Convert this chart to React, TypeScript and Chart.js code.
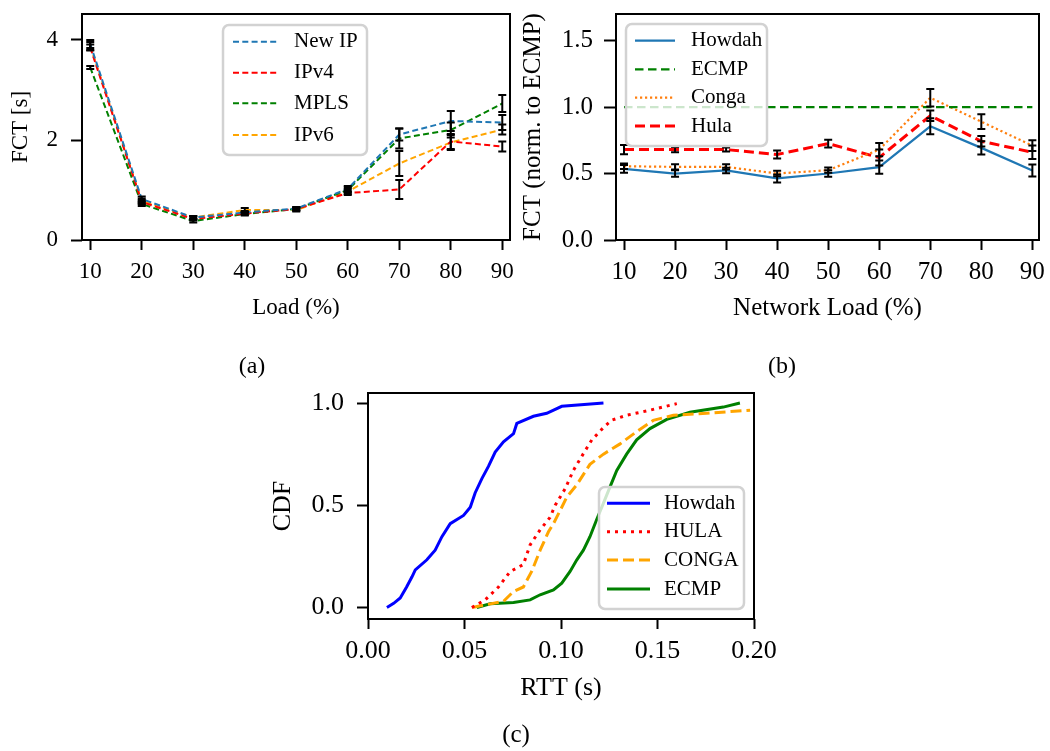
import React, { useEffect, useRef } from "react";
import { Chart, registerables } from "chart.js";

Chart.register(...registerables);

const SERIF = "'Liberation Serif', 'Times New Roman', Times, serif";

// ---------------- Panel (a): FCT vs load ----------------
const loadA = [10, 20, 30, 40, 50, 60, 70, 80, 90];
const newIpFct = [3.92, 0.82, 0.45, 0.55, 0.63, 1.02, 2.11, 2.38, 2.35];
const newIpErr = [0.08, 0.05, 0.03, 0.03, 0.03, 0.06, 0.12, 0.2, 0.15];
const ipv4Fct = [3.85, 0.76, 0.42, 0.53, 0.62, 0.94, 1.01, 1.97, 1.87];
const ipv4Err = [0.06, 0.04, 0.03, 0.03, 0.03, 0.04, 0.19, 0.15, 0.1];
const mplsFct = [3.45, 0.72, 0.38, 0.52, 0.62, 1.0, 2.03, 2.2, 2.73];
const mplsErr = [0.03, 0.04, 0.03, 0.03, 0.03, 0.05, 0.2, 0.15, 0.17];
const ipv6Fct = [3.88, 0.78, 0.45, 0.6, 0.6, 0.97, 1.53, 1.95, 2.21];
const ipv6Err = [0.08, 0.05, 0.03, 0.04, 0.03, 0.05, 0.25, 0.15, 0.1];
const ticksAX = [10, 20, 30, 40, 50, 60, 70, 80, 90];
const ticksAY = [0, 2, 4];

// ---------------- Panel (b): normalized FCT ----------------
const loadB = [10, 20, 30, 40, 50, 60, 70, 80, 90];
const howdahNorm = [0.535, 0.5, 0.523, 0.463, 0.5, 0.548, 0.855, 0.693, 0.523];
const howdahNormErr = [0.03, 0.025, 0.02, 0.03, 0.025, 0.05, 0.06, 0.05, 0.045];
const ecmpNorm = [1, 1, 1, 1, 1, 1, 1, 1, 1];
const congaNorm = [0.555, 0.55, 0.55, 0.5, 0.525, 0.68, 1.07, 0.89, 0.71];
const congaNormErr = [0.02, 0.02, 0.02, 0.02, 0.02, 0.05, 0.065, 0.055, 0.04];
const hulaNorm = [0.68, 0.68, 0.68, 0.643, 0.725, 0.62, 0.935, 0.743, 0.66];
const hulaNormErr = [0.035, 0.02, 0.015, 0.03, 0.03, 0.06, 0.04, 0.04, 0.05];
const ticksBX = [10, 20, 30, 40, 50, 60, 70, 80, 90];
const ticksBY = [0, 0.5, 1.0, 1.5];

// ---------------- Panel (c): RTT CDF ----------------
const howdahRtt = [0.0098, 0.0133, 0.0167, 0.02, 0.0228, 0.0245, 0.0305, 0.0348, 0.0383, 0.0426, 0.0495, 0.053, 0.0555, 0.059, 0.0624, 0.0659, 0.0702, 0.0754, 0.0771, 0.0857, 0.0926, 0.1004, 0.122];
const howdahCdf = [0, 0.02, 0.046, 0.1, 0.15, 0.184, 0.233, 0.28, 0.346, 0.41, 0.45, 0.49, 0.56, 0.63, 0.69, 0.76, 0.81, 0.85, 0.9, 0.935, 0.95, 0.984, 1.0];
const hulaRtt = [0.0538, 0.0607, 0.0676, 0.0737, 0.0805, 0.084, 0.0892, 0.0943, 0.097, 0.1021, 0.1064, 0.1108, 0.116, 0.122, 0.1263, 0.134, 0.1461, 0.16];
const hulaCdf = [0, 0.037, 0.1, 0.176, 0.21, 0.306, 0.38, 0.44, 0.5, 0.58, 0.67, 0.74, 0.82, 0.88, 0.916, 0.94, 0.965, 0.997];
const congaRtt = [0.054, 0.0702, 0.0754, 0.0805, 0.0848, 0.0892, 0.0935, 0.0961, 0.1004, 0.103, 0.1082, 0.115, 0.122, 0.1306, 0.1392, 0.1478, 0.1582, 0.1755, 0.198];
const congaCdf = [0, 0.03, 0.078, 0.1, 0.176, 0.28, 0.37, 0.41, 0.49, 0.54, 0.6, 0.7, 0.75, 0.8, 0.86, 0.915, 0.94, 0.95, 0.965];
const ecmpRtt = [0.0564, 0.0633, 0.0754, 0.084, 0.0892, 0.0961, 0.1004, 0.1047, 0.1082, 0.1116, 0.115, 0.1185, 0.122, 0.1254, 0.1289, 0.134, 0.1392, 0.1461, 0.1548, 0.1668, 0.1841, 0.1927];
const ecmpCdf = [0, 0.018, 0.024, 0.037, 0.062, 0.086, 0.119, 0.176, 0.233, 0.28, 0.346, 0.43, 0.51, 0.59, 0.67, 0.75, 0.82, 0.875, 0.92, 0.955, 0.98, 1.0];
const ticksCX = [0, 0.05, 0.1, 0.15, 0.2];
const ticksCY = [0, 0.5, 1.0];

// ---------------- types ----------------
interface LineSpec {
  label: string;
  xs: number[];
  ys: number[];
  err?: number[];
  color: string;
  dash: number[];
  width: number;
  cap?: CanvasLineCap;
}

interface PanelSpec {
  area: { left: number; top: number; right: number; bottom: number };
  layoutLeft: number;
  xRange: [number, number];
  yRange: [number, number];
  xTicks: number[];
  yTicks: number[];
  xFmt: (v: number) => string;
  yFmt: (v: number) => string;
  xTitle: string;
  yTitle: string;
  tickSize: number;
  titleSize: number;
  xTickLen: number;
  yTickLen: number;
  xTickPad: number;
  yTickPad: number;
  xTitleCenter: number;
  yTitleCenter: number;
  series: LineSpec[];
  capHalf: number;
  legend: {
    box: { x: number; y: number; w: number; h: number };
    rows: number[];
    sampleX: [number, number];
    textX: number;
    size: number;
  };
  caption: { text: string; x: number; y: number; size: number };
}

const W = 1050;
const H = 751;

function buildChart(canvas: HTMLCanvasElement, p: PanelSpec) {
  const lh = 1.2;
  const xAxisH = p.xTitleCenter - p.area.bottom + (p.titleSize * lh) / 2;
  const yAxisW = p.area.left - p.layoutLeft;
  const yTitlePad = p.yTitleCenter - p.layoutLeft - (p.titleSize * lh) / 2;

  const datasets = p.series.map((s) => ({
    label: s.label,
    data: s.xs.map((x, i) => ({ x, y: s.ys[i] })),
    borderColor: s.color,
    backgroundColor: s.color,
    borderWidth: s.width,
    borderDash: s.dash,
    borderCapStyle: s.cap || "butt",
    pointRadius: 0,
    pointHoverRadius: 0,
    tension: 0,
    fill: false,
  }));

  const overlay = {
    id: "overlay",
    afterDatasetsDraw(chart: any) {
      const ctx: CanvasRenderingContext2D = chart.ctx;
      const xs = chart.scales.x;
      const ys = chart.scales.y;
      const a = chart.chartArea;
      ctx.save();
      // error bars
      ctx.strokeStyle = "#000";
      ctx.lineWidth = 2;
      ctx.setLineDash([]);
      p.series.forEach((s) => {
        if (!s.err) return;
        s.xs.forEach((xv, i) => {
          const px = xs.getPixelForValue(xv);
          const y1 = ys.getPixelForValue(s.ys[i] - s.err![i]);
          const y2 = ys.getPixelForValue(s.ys[i] + s.err![i]);
          ctx.beginPath();
          ctx.moveTo(px, y1);
          ctx.lineTo(px, y2);
          ctx.moveTo(px - p.capHalf, y1);
          ctx.lineTo(px + p.capHalf, y1);
          ctx.moveTo(px - p.capHalf, y2);
          ctx.lineTo(px + p.capHalf, y2);
          ctx.stroke();
        });
      });
      // spines
      ctx.lineWidth = 2;
      ctx.strokeStyle = "#000";
      ctx.strokeRect(a.left, a.top, a.right - a.left, a.bottom - a.top);
      // legend
      const L = p.legend;
      ctx.beginPath();
      const r = 6;
      const { x, y, w, h } = L.box;
      ctx.moveTo(x + r, y);
      ctx.arcTo(x + w, y, x + w, y + h, r);
      ctx.arcTo(x + w, y + h, x, y + h, r);
      ctx.arcTo(x, y + h, x, y, r);
      ctx.arcTo(x, y, x + w, y, r);
      ctx.closePath();
      ctx.fillStyle = "rgba(255,255,255,0.8)";
      ctx.fill();
      ctx.strokeStyle = "#d2d2d2";
      ctx.lineWidth = 2.5;
      ctx.stroke();
      p.series.forEach((s, i) => {
        const ry = L.rows[i];
        ctx.beginPath();
        ctx.setLineDash(s.dash);
        ctx.lineCap = s.cap || "butt";
        ctx.strokeStyle = s.color;
        ctx.lineWidth = s.width;
        ctx.moveTo(L.sampleX[0], ry);
        ctx.lineTo(L.sampleX[1], ry);
        ctx.stroke();
        ctx.setLineDash([]);
        ctx.fillStyle = "#000";
        ctx.font = `${L.size}px ${SERIF}`;
        ctx.textAlign = "left";
        ctx.textBaseline = "middle";
        ctx.fillText(s.label, L.textX, ry);
      });
      // caption
      ctx.fillStyle = "#000";
      ctx.font = `${p.caption.size}px ${SERIF}`;
      ctx.textAlign = "center";
      ctx.textBaseline = "middle";
      ctx.fillText(p.caption.text, p.caption.x, p.caption.y);
      ctx.restore();
    },
  };

  const zeroPad = (s: any) => {
    s.paddingLeft = 0;
    s.paddingRight = 0;
    s.paddingTop = 0;
    s.paddingBottom = 0;
  };

  return new Chart(canvas, {
    type: "line",
    data: { datasets: datasets as any },
    options: {
      responsive: false,
      animation: false,
      events: [],
      layout: {
        padding: {
          left: p.layoutLeft,
          top: p.area.top,
          right: W - p.area.right,
          bottom: H - p.area.bottom - xAxisH,
        },
      },
      plugins: {
        legend: { display: false },
        tooltip: { enabled: false },
        title: { display: false },
      },
      scales: {
        x: {
          type: "linear",
          position: "bottom",
          min: p.xRange[0],
          max: p.xRange[1],
          afterBuildTicks: (s: any) => {
            s.ticks = p.xTicks.map((v) => ({ value: v }));
          },
          afterFit: (s: any) => {
            s.height = xAxisH;
            zeroPad(s);
          },
          ticks: {
            font: { family: SERIF, size: p.tickSize },
            color: "#000",
            padding: p.xTickPad,
            maxRotation: 0,
            minRotation: 0,
            autoSkip: false,
            callback: (v: any) => p.xFmt(Number(v)),
          },
          grid: {
            drawOnChartArea: false,
            drawTicks: true,
            tickLength: p.xTickLen,
            tickColor: "#000",
            tickWidth: 2,
            color: "#000",
          },
          border: { display: false },
          title: {
            display: true,
            text: p.xTitle,
            color: "#000",
            font: { family: SERIF, size: p.titleSize, lineHeight: lh },
            padding: { top: 0, bottom: 0 },
          },
        },
        y: {
          type: "linear",
          position: "left",
          min: p.yRange[0],
          max: p.yRange[1],
          afterBuildTicks: (s: any) => {
            s.ticks = p.yTicks.map((v) => ({ value: v }));
          },
          afterFit: (s: any) => {
            s.width = yAxisW;
            zeroPad(s);
          },
          ticks: {
            font: { family: SERIF, size: p.tickSize },
            color: "#000",
            padding: p.yTickPad,
            autoSkip: false,
            callback: (v: any) => p.yFmt(Number(v)),
          },
          grid: {
            drawOnChartArea: false,
            drawTicks: true,
            tickLength: p.yTickLen,
            tickColor: "#000",
            tickWidth: 2,
            color: "#000",
          },
          border: { display: false },
          title: {
            display: true,
            text: p.yTitle,
            color: "#000",
            font: { family: SERIF, size: p.titleSize, lineHeight: lh },
            padding: { top: yTitlePad, bottom: 0 },
          },
        },
      },
    },
    plugins: [overlay as any],
  });
}

const panelA: PanelSpec = {
  area: { left: 82, top: 14, right: 510, bottom: 240 },
  layoutLeft: 0,
  xRange: [8.4, 91.5],
  yRange: [0, 4.52],
  xTicks: ticksAX,
  yTicks: ticksAY,
  xFmt: (v) => String(Math.round(v)),
  yFmt: (v) => String(Math.round(v)),
  xTitle: "Load (%)",
  yTitle: "FCT [s]",
  tickSize: 23,
  titleSize: 23,
  xTickLen: 10,
  yTickLen: 11,
  xTickPad: 8.5,
  yTickPad: 13,
  xTitleCenter: 308,
  yTitleCenter: 21,
  capHalf: 4,
  series: [
    { label: "New IP", xs: loadA, ys: newIpFct, err: newIpErr, color: "#1f77b4", dash: [6, 3.3], width: 2 },
    { label: "IPv4", xs: loadA, ys: ipv4Fct, err: ipv4Err, color: "#ff0000", dash: [6, 3.3], width: 2 },
    { label: "MPLS", xs: loadA, ys: mplsFct, err: mplsErr, color: "#008000", dash: [6, 3.3], width: 2 },
    { label: "IPv6", xs: loadA, ys: ipv6Fct, err: ipv6Err, color: "#ffa500", dash: [6, 3.3], width: 2 },
  ],
  legend: {
    box: { x: 223, y: 25, w: 144, h: 130 },
    rows: [41.7, 72.7, 103.3, 135],
    sampleX: [233, 277],
    textX: 294,
    size: 21,
  },
  caption: { text: "(a)", x: 252, y: 367, size: 24 },
};

const panelB: PanelSpec = {
  area: { left: 616, top: 14, right: 1039, bottom: 240 },
  layoutLeft: 500,
  xRange: [8.43, 91.3],
  yRange: [0, 1.7],
  xTicks: ticksBX,
  yTicks: ticksBY,
  xFmt: (v) => String(Math.round(v)),
  yFmt: (v) => v.toFixed(1),
  xTitle: "Network Load (%)",
  yTitle: "FCT (norm. to ECMP)",
  tickSize: 25,
  titleSize: 25,
  xTickLen: 10,
  yTickLen: 12,
  xTickPad: 7.5,
  yTickPad: 11,
  xTitleCenter: 308.5,
  yTitleCenter: 533,
  capHalf: 4,
  series: [
    { label: "Howdah", xs: loadB, ys: howdahNorm, err: howdahNormErr, color: "#1f77b4", dash: [], width: 2.2 },
    { label: "ECMP", xs: loadB, ys: ecmpNorm, color: "#008000", dash: [8.5, 4.5], width: 2.2 },
    { label: "Conga", xs: loadB, ys: congaNorm, err: congaNormErr, color: "#ff7f0e", dash: [2.2, 2.8], width: 2.2 },
    { label: "Hula", xs: loadB, ys: hulaNorm, err: hulaNormErr, color: "#ff0000", dash: [10, 5], width: 3 },
  ],
  legend: {
    box: { x: 626, y: 24, w: 141, h: 122 },
    rows: [40.7, 69.3, 97.7, 126],
    sampleX: [635, 675],
    textX: 691,
    size: 21,
  },
  caption: { text: "(b)", x: 782, y: 367, size: 24 },
};

const panelC: PanelSpec = {
  area: { left: 368, top: 393, right: 754, bottom: 619 },
  layoutLeft: 250,
  xRange: [0, 0.2],
  yRange: [-0.0566, 1.049],
  xTicks: ticksCX,
  yTicks: ticksCY,
  xFmt: (v) => v.toFixed(2),
  yFmt: (v) => v.toFixed(1),
  xTitle: "RTT (s)",
  yTitle: "CDF",
  tickSize: 26,
  titleSize: 26,
  xTickLen: 10,
  yTickLen: 11,
  xTickPad: 6.6,
  yTickPad: 13,
  xTitleCenter: 688,
  yTitleCenter: 283,
  capHalf: 4,
  series: [
    { label: "Howdah", xs: howdahRtt, ys: howdahCdf, color: "#0000ff", dash: [], width: 3 },
    { label: "HULA", xs: hulaRtt, ys: hulaCdf, color: "#ff0000", dash: [3, 5], width: 3 },
    { label: "CONGA", xs: congaRtt, ys: congaCdf, color: "#ffa500", dash: [11, 5], width: 3 },
    { label: "ECMP", xs: ecmpRtt, ys: ecmpCdf, color: "#008000", dash: [], width: 3 },
  ],
  legend: {
    box: { x: 599, y: 487, w: 145, h: 122 },
    rows: [503.3, 531.7, 560, 589],
    sampleX: [607, 650],
    textX: 664,
    size: 21,
  },
  caption: { text: "(c)", x: 516, y: 735, size: 25 },
};

export default function App() {
  const refA = useRef<HTMLCanvasElement>(null);
  const refB = useRef<HTMLCanvasElement>(null);
  const refC = useRef<HTMLCanvasElement>(null);

  useEffect(() => {
    const charts = [
      buildChart(refA.current!, panelA),
      buildChart(refB.current!, panelB),
      buildChart(refC.current!, panelC),
    ];
    return () => charts.forEach((c) => c.destroy());
  }, []);

  const cs: React.CSSProperties = {
    position: "absolute",
    left: 0,
    top: 0,
    width: W,
    height: H,
    display: "block",
  };

  return (
    <div
      style={{
        position: "absolute",
        left: 0,
        top: 0,
        width: W,
        height: H,
        background: "#fff",
        overflow: "hidden",
      }}
    >
      <canvas ref={refA} width={W} height={H} style={cs} />
      <canvas ref={refB} width={W} height={H} style={cs} />
      <canvas ref={refC} width={W} height={H} style={cs} />
    </div>
  );
}
